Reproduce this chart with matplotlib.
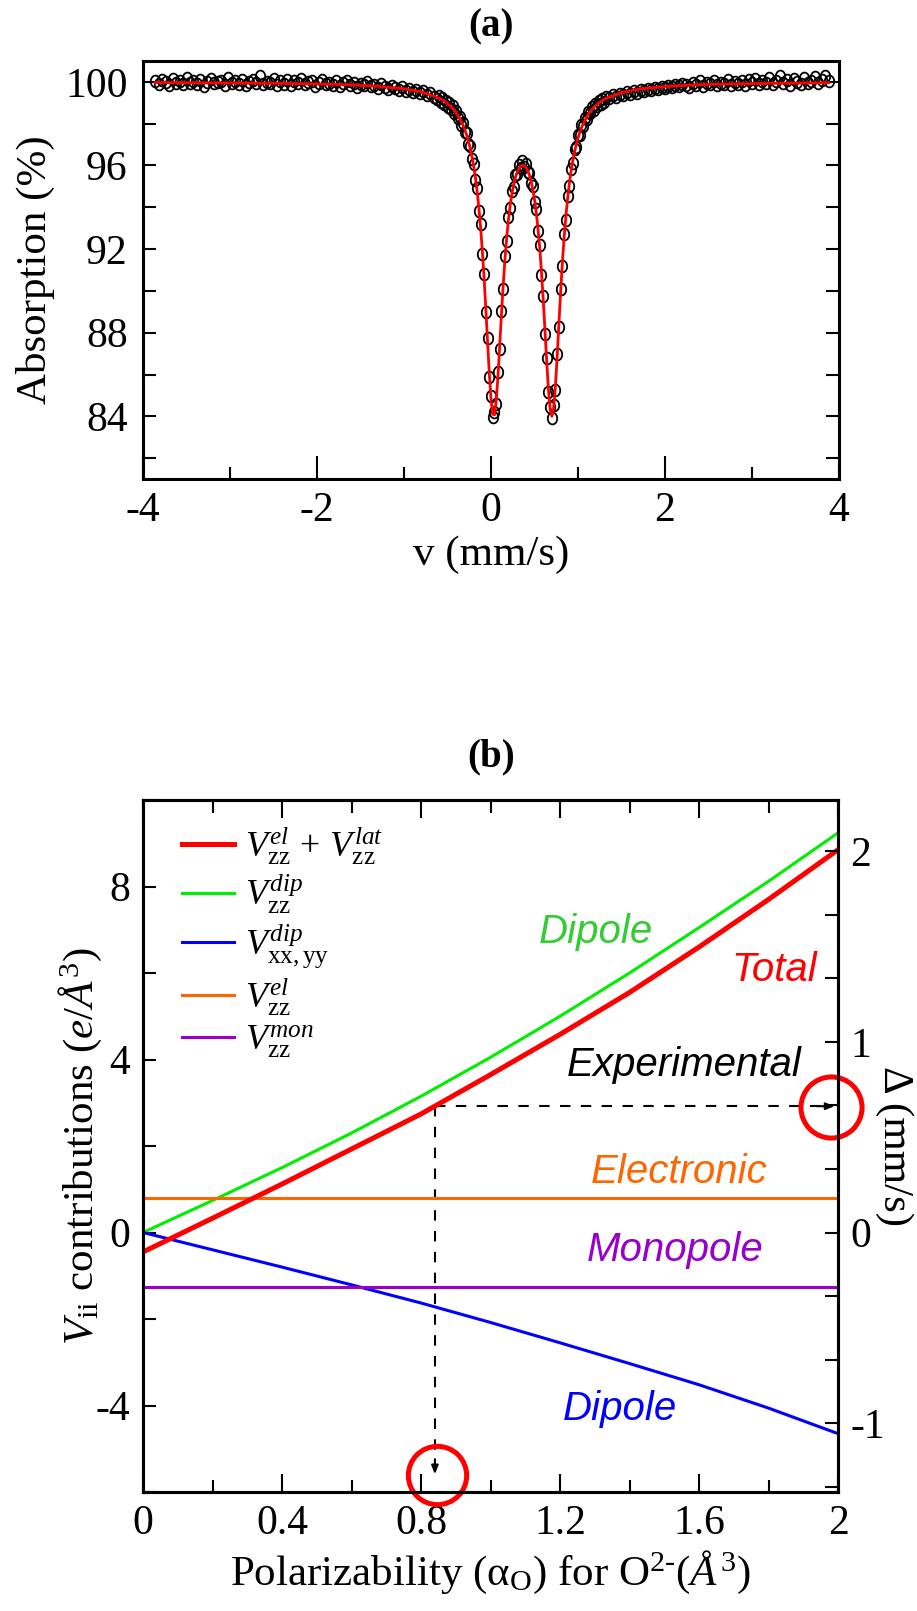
import numpy as np
import matplotlib.pyplot as plt
from matplotlib.ticker import MultipleLocator, FuncFormatter

plt.rcParams['font.family'] = ['Liberation Serif', 'DejaVu Serif']
plt.rcParams['mathtext.fontset'] = 'custom'
plt.rcParams['mathtext.rm'] = 'Liberation Serif'
plt.rcParams['mathtext.it'] = 'Liberation Serif:italic'
plt.rcParams['mathtext.bf'] = 'Liberation Serif:bold'
plt.rcParams['axes.unicode_minus'] = False

# ---- (a) Mossbauer spectrum ----
# measured points, three velocity windows (mm/s): start, step
left_start, left_step = -3.86, 0.04
mid_start, mid_step = -0.60, 0.02
right_start, right_step = 1.36, 0.04

absorb_left = [100.05, 99.92, 100.10, 99.98, 99.85, 100.12, 99.95, 100.02, 99.88, 100.18,
               99.96, 100.04, 99.90, 100.08, 99.82, 100.00, 100.14, 99.93, 99.99, 100.06,
               99.87, 100.21, 99.97, 100.03, 99.91, 100.09, 99.84, 99.98, 100.11, 99.94,
               100.26, 99.89, 100.01, 99.95, 100.13, 99.86, 100.04, 99.92, 100.07, 99.83,
               100.02, 99.96, 100.15, 99.88, 99.99, 100.06, 99.81, 99.94, 100.10, 99.90,
               99.97, 99.85, 100.05, 99.79, 99.93, 100.02, 99.87, 99.96, 99.76, 99.91,
               99.84, 99.98, 99.78, 99.86, 99.72, 99.90, 99.75, 99.66, 99.82, 99.70,
               99.62, 99.74, 99.58, 99.68, 99.50, 99.61, 99.45, 99.55, 99.38, 99.47,
               99.30, 99.18]
absorb_mid = [99.31, 99.02, 99.25, 98.94, 99.10, 98.82, 98.97, 98.70, 98.85, 98.50,
              98.60, 98.28, 98.33, 97.95, 98.02, 97.58, 97.55, 97.02, 96.95, 96.30,
              96.08, 95.30, 94.90, 93.80, 93.20, 91.75, 90.80, 89.00, 87.75, 85.90,
              84.95, 83.95, 84.20, 84.60, 86.10, 87.20, 89.05, 90.10, 91.65, 92.40,
              93.55, 93.95, 94.80, 94.95, 95.55, 95.60, 96.00, 95.90, 96.20, 95.95,
              96.05, 95.70, 95.65, 95.15, 95.00, 94.25, 93.90, 92.85, 92.20, 90.75,
              89.75, 87.95, 86.80, 85.15, 84.45, 83.90, 84.55, 85.25, 87.00, 88.25,
              90.10, 91.20, 92.70, 93.40, 94.55, 95.00, 95.85, 96.10, 96.80, 96.90,
              97.45, 97.48, 97.92, 97.90, 98.28, 98.22, 98.58, 98.49, 98.78, 98.66,
              98.95, 98.84, 99.08, 98.96, 99.20, 99.05, 99.28]
absorb_right = [99.22, 99.35, 99.28, 99.42, 99.38, 99.50, 99.44, 99.58, 99.49, 99.62,
                99.55, 99.68, 99.60, 99.72, 99.64, 99.76, 99.70, 99.82, 99.74, 99.86,
                99.78, 99.92, 99.83, 99.75, 99.95, 99.87, 100.02, 99.80, 99.93, 99.88,
                100.06, 99.84, 99.97, 99.90, 100.10, 99.86, 99.99, 99.92, 100.04, 99.85,
                100.08, 99.94, 100.15, 99.89, 100.02, 99.96, 100.20, 99.91, 100.05, 100.28,
                99.93, 100.09, 99.87, 100.12, 100.00, 99.90, 100.18, 99.95, 100.06, 100.24,
                99.97, 100.10, 100.30, 100.02]

# fitted curve: wings listed explicitly, centre on the same grid as absorb_mid
fit_v_left = [-3.86, -3.0, -2.4, -2.0, -1.6, -1.3, -1.0, -0.8]
fit_y_left = [99.97, 99.95, 99.93, 99.90, 99.86, 99.79, 99.67, 99.53]
fit_y_mid = [99.23, 99.19, 99.14, 99.09, 99.02, 98.96, 98.89, 98.81, 98.73, 98.63,
             98.51, 98.39, 98.25, 98.10, 97.91, 97.70, 97.46, 97.18, 96.84, 96.45,
             95.99, 95.45, 94.79, 93.99, 93.06, 91.94, 90.64, 89.18, 87.60, 86.09,
             84.83, 84.10, 84.07, 84.74, 85.93, 87.38, 88.88, 90.27, 91.50, 92.53,
             93.39, 94.09, 94.64, 95.08, 95.42, 95.67, 95.85, 95.96, 96.01, 95.99,
             95.92, 95.77, 95.56, 95.26, 94.88, 94.38, 93.76, 92.98, 92.05, 90.91,
             89.60, 88.14, 86.64, 85.29, 84.33, 84.00, 84.39, 85.41, 86.83, 88.39,
             89.93, 91.32, 92.53, 93.54, 94.41, 95.13, 95.73, 96.23, 96.65, 97.01,
             97.32, 97.58, 97.81, 98.00, 98.17, 98.32, 98.46, 98.58, 98.67, 98.77,
             98.86, 98.92, 99.00, 99.05, 99.11, 99.17, 99.21]
fit_v_right = [1.5, 1.7, 2.0, 2.4, 2.8, 3.2, 3.88]
fit_y_right = [99.49, 99.66, 99.78, 99.87, 99.91, 99.93, 99.96]

# ---- (b) EFG contributions vs polarizability ----
alpha = [0.0, 0.2, 0.4, 0.6, 0.8, 1.0, 1.2, 1.4, 1.6, 1.8, 2.0]
v_total = [-0.45, 0.33, 1.12, 1.93, 2.74, 3.65, 4.58, 5.55, 6.60, 7.70, 8.85]
v_dip_zz = [0.0, 0.74, 1.50, 2.30, 3.15, 4.05, 5.00, 6.00, 7.05, 8.12, 9.24]
v_dip_xx = [0.0, -0.40, -0.80, -1.21, -1.63, -2.08, -2.55, -3.03, -3.52, -4.06, -4.65]
v_el = 0.8
v_mon = -1.25
alpha_exp = 0.84
vzz_exp = 2.92
vzz_per_delta = 4.41  # e/A^3 per mm/s

# ------------------------------------------------------------------
v_left = left_start + left_step * np.arange(len(absorb_left))
v_mid = mid_start + mid_step * np.arange(len(absorb_mid))
v_right = right_start + right_step * np.arange(len(absorb_right))
v_data = np.concatenate([v_left, v_mid, v_right])
a_data = np.concatenate([absorb_left, absorb_mid, absorb_right])
fit_v = np.concatenate([fit_v_left, v_mid, fit_v_right])
fit_y = np.concatenate([fit_y_left, fit_y_mid, fit_y_right])

# slightly tall open circle, as in the original figure
t = np.linspace(0, 2 * np.pi, 40)
oval = np.column_stack([0.8 * np.cos(t), np.sin(t)])

fig = plt.figure(figsize=(9.17, 16.11), dpi=100)
ax1 = fig.add_axes([143 / 917, 1 - 479 / 1611, 696 / 917, 418 / 1611])
ax2 = fig.add_axes([143 / 917, 1 - 1492 / 1611, 695 / 917, 692 / 1611])

lab_fs = 31
tick_fs = 30
txt_fs = 29

# panel (a)
ax1.plot(v_data, a_data, ls='none', marker=oval, mfc='none', mec='black', ms=8.5,
         mew=1.3, zorder=2)
ax1.plot(fit_v, fit_y, color='red', lw=2.0, zorder=3)
ax1.set_xlim(-4, 4)
ax1.set_ylim(81, 101)
ax1.xaxis.set_major_locator(MultipleLocator(2))
ax1.xaxis.set_minor_locator(MultipleLocator(1))
ax1.yaxis.set_major_locator(MultipleLocator(4))
ax1.yaxis.set_minor_locator(MultipleLocator(2))
ax1.xaxis.set_major_formatter(FuncFormatter(lambda x, _: f'{x:g}'))
ax1.tick_params(axis='x', which='major', direction='in', length=16.5, width=1.5,
                top=False, labelsize=tick_fs, pad=9)
ax1.tick_params(axis='x', which='minor', direction='in', length=9, width=1.5, top=False)
ax1.tick_params(axis='y', which='both', direction='in', length=9.5, width=1.5,
                left=True, right=True, labelsize=tick_fs, pad=11)
ax1.set_xlabel('v (mm/s)', fontsize=lab_fs, labelpad=4)
ax1.set_ylabel('Absorption (%)', fontsize=lab_fs)
ax1.yaxis.set_label_coords(-0.126, 0.5)
for s in ax1.spines.values():
    s.set_linewidth(2.2)
fig.text(491 / 917, 1 - 27 / 1611, '(a)', ha='center', va='center',
         fontsize=28, fontweight='bold')

# panel (b)
ax2.plot(alpha, v_total, color='#ff0000', lw=3.6, zorder=4,
         label=r'$V_{\mathrm{zz}}^{el}\,+\,V_{\mathrm{zz}}^{lat}$')
ax2.plot(alpha, v_dip_zz, color='#00ee00', lw=2.2, zorder=3,
         label=r'$V_{\mathrm{zz}}^{dip}$')
ax2.plot(alpha, v_dip_xx, color='#0000ff', lw=2.2, zorder=3,
         label=r'$V_{\mathrm{xx,yy}}^{dip}$')
ax2.plot([alpha[0], alpha[-1]], [v_el, v_el], color='#ff6600', lw=2.2, zorder=3,
         label=r'$V_{\mathrm{zz}}^{el}$')
ax2.plot([alpha[0], alpha[-1]], [v_mon, v_mon], color='#9900cc', lw=2.2, zorder=3,
         label=r'$V_{\mathrm{zz}}^{mon}$')

ax2.set_xlim(0, 2)
ax2.set_ylim(-6, 10)
y0, y1 = ax2.get_ylim()

# experimental value: dashed guide lines with arrow heads
tip_y = -5.59
tip_x = 1.99
ax2.plot([alpha_exp, alpha_exp], [vzz_exp, tip_y + 0.3], ls=(0, (5, 5)), color='black', lw=1.5)
ax2.plot([alpha_exp, tip_x - 0.04], [vzz_exp, vzz_exp], ls=(0, (5, 5)), color='black', lw=1.5)
ax2.annotate('', xy=(alpha_exp, tip_y), xytext=(alpha_exp, tip_y + 0.35),
             arrowprops=dict(arrowstyle='-|>,head_length=0.5,head_width=0.2',
                             color='black', lw=1.5, shrinkA=0, shrinkB=0))
ax2.annotate('', xy=(tip_x, vzz_exp), xytext=(tip_x - 0.05, vzz_exp),
             arrowprops=dict(arrowstyle='-|>,head_length=0.5,head_width=0.2',
                             color='black', lw=1.5, shrinkA=0, shrinkB=0))
ax2.plot([alpha_exp + 0.006], [tip_y - 0.02], 'o', ms=42, mfc='none', mec='red', mew=3.6,
         clip_on=False, zorder=6)
ax2.plot([1.98], [vzz_exp - 0.01], 'o', ms=44, mfc='none', mec='red', mew=3.6,
         clip_on=False, zorder=6)

ax2.text(1.468, 6.70, 'Dipole', color='#33cc33', fontsize=txt_fs, style='italic',
         family='Liberation Sans', ha='right', va='baseline')
ax2.text(1.94, 5.82, 'Total', color='#ff0000', fontsize=txt_fs, style='italic',
         family='Liberation Sans', ha='right', va='baseline')
ax2.text(1.896, 3.63, 'Experimental', color='black', fontsize=txt_fs, style='italic',
         family='Liberation Sans', ha='right', va='baseline')
ax2.text(1.796, 1.155, 'Electronic', color='#ff6600', fontsize=txt_fs, style='italic',
         family='Liberation Sans', ha='right', va='baseline')
ax2.text(1.787, -0.65, 'Monopole', color='#9900cc', fontsize=txt_fs, style='italic',
         family='Liberation Sans', ha='right', va='baseline')
ax2.text(1.537, -4.34, 'Dipole', color='#0000ff', fontsize=txt_fs, style='italic',
         family='Liberation Sans', ha='right', va='baseline')

ax2.xaxis.set_major_locator(MultipleLocator(0.4))
ax2.xaxis.set_minor_locator(MultipleLocator(0.2))
ax2.yaxis.set_major_locator(MultipleLocator(4))
ax2.yaxis.set_minor_locator(MultipleLocator(2))
ax2.xaxis.set_major_formatter(FuncFormatter(lambda x, _: f'{x:g}'))
ax2.tick_params(axis='x', which='major', direction='in', length=13, width=1.5,
                top=True, labelsize=tick_fs, pad=9)
ax2.tick_params(axis='x', which='minor', direction='in', length=9, width=1.5, top=True)
ax2.tick_params(axis='y', which='both', direction='in', length=9.5, width=1.5,
                left=True, right=False, labelsize=tick_fs, pad=9)
ax2.set_xlabel(r'Polarizability (α$_{\mathrm{O}}$) for O$^{2\text{-}}$($Å^{3}$)',
               fontsize=lab_fs, labelpad=4)
ax2.set_ylabel(r'$V_{\mathrm{ii}}$ contributions ($e$/$Å^{3}$)', fontsize=lab_fs)
ax2.yaxis.set_label_coords(-0.056, 0.5)
for s in ax2.spines.values():
    s.set_linewidth(2.2)

leg = ax2.legend(loc='upper left', bbox_to_anchor=(0.056, 0.964), frameon=False,
                 fontsize=26, handlelength=1.45, handletextpad=0.3,
                 labelspacing=0.15, borderaxespad=0, borderpad=0)

ax3 = ax2.twinx()
ax3.set_ylim(y0 / vzz_per_delta, y1 / vzz_per_delta)
ax3.yaxis.set_major_locator(MultipleLocator(1))
ax3.yaxis.set_minor_locator(MultipleLocator(1 / 3))
ax3.tick_params(axis='y', which='both', direction='in', length=9.5, width=1.5,
                labelsize=tick_fs, pad=9)
ax3.set_ylabel('Δ (mm/s)', fontsize=lab_fs, rotation=270, va='bottom')
ax3.yaxis.set_label_coords(1.053, 0.5)
for s in ax3.spines.values():
    s.set_linewidth(2.2)

fig.text(491 / 917, 1 - 757 / 1611, '(b)', ha='center', va='center',
         fontsize=28, fontweight='bold')

fig.savefig('out.png', dpi=100)
